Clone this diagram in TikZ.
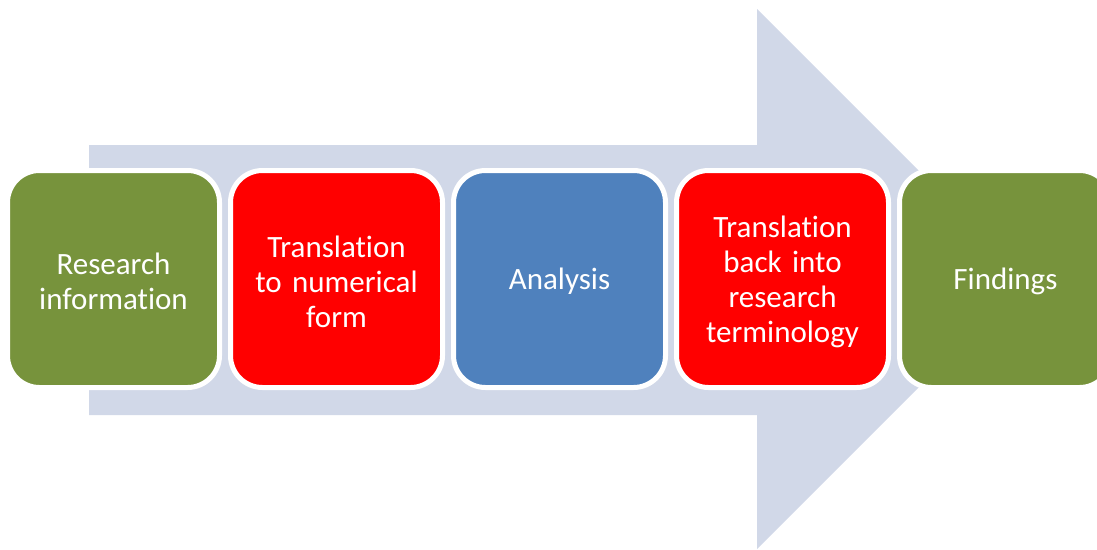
\documentclass[tikz,border=0pt]{standalone}
\usepackage{fontspec}
\setmainfont{Carlito}[Ligatures=NoCommon]
\definecolor{arrowfill}{HTML}{D1D8E8}
\definecolor{stepgreen}{HTML}{77933C}
\definecolor{stepred}{HTML}{FF0000}
\definecolor{stepblue}{HTML}{4F81BD}
\begin{document}
\begin{tikzpicture}[x=1pt,y=-1pt,
  stepbox/.style={draw=white, line width=5pt, rounded corners=32pt,
    minimum width=212pt, minimum height=217pt, inner sep=0pt},
  steptext/.style={text=white, align=center, text width=200pt, inner sep=0pt,
    font=\fontsize{31pt}{35pt}\selectfont},
  ]
  \useasboundingbox (0,0) rectangle (1097,549);
  \begin{scope}
    \clip (0,0) rectangle (1097,549);
    % broad background arrow
    \fill[arrowfill] (89,145) -- (757,145) -- (757,9) -- (1027,279)
      -- (757,549) -- (757,415) -- (89,415) -- cycle;
    % process steps
    \node[stepbox, fill=stepgreen] (research) at (113.5,279) {};
    \node[stepbox, fill=stepred]   (numeric)  at (336.5,279) {};
    \node[stepbox, fill=stepblue]  (analysis) at (559.5,279) {};
    \node[stepbox, fill=stepred]   (back)     at (782.5,279) {};
    \node[stepbox, fill=stepgreen] (findings) at (1005.5,279) {};
    % step captions
    \node[steptext] (research-text) at ([yshift=-2.5pt]research.center) {Research\\information};
    \node[steptext] (numeric-text)  at ([yshift=-2.5pt]numeric.center)  {Translation\\to numerical\\form};
    \node[steptext] (analysis-text) at ([yshift=-2.5pt]analysis.center) {Analysis};
    \node[steptext] (back-text)     at ([yshift=-2.5pt]back.center)     {Translation\\back into\\research\\terminology};
    \node[steptext] (findings-text) at ([yshift=-2.5pt]findings.center) {Findings};
  \end{scope}
\end{tikzpicture}
\end{document}
